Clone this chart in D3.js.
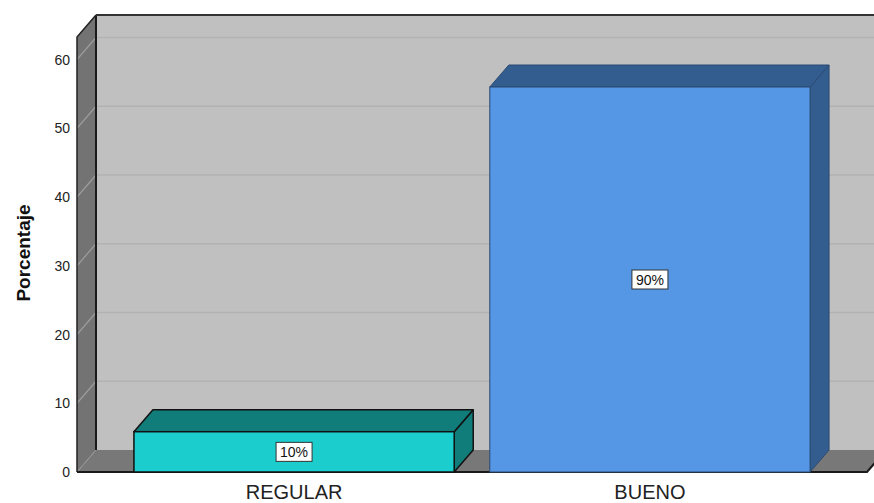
<!DOCTYPE html>
<html>
<head>
<meta charset="utf-8">
<script src="https://cdn.jsdelivr.net/npm/d3@7"></script>
<style>
  body { margin: 0; background: #fff; }
  text { font-family: "Liberation Sans", Arial, sans-serif; }
</style>
</head>
<body>
<script>
// data
var categories = ["REGULAR", "BUENO"];
var values = [5.86, 56.0];
var barLabels = ["10%", "90%"];
var yTicks = [0, 10, 20, 30, 40, 50, 60];
var barFront = ["#1ccdcd", "#5596e5"];
var barSide = ["#117d7a", "#345d8f"];
var barStroke = ["#111", "#2b4a72"];

var width = 874, height = 503;

// front plane and 3d depth offset
var left = 77, right = 867, base = 472;
var dx = 19, dy = -22;

var svg = d3.select("body").append("svg")
    .attr("width", width)
    .attr("height", height);

var x = d3.scaleBand()
    .domain(categories)
    .range([left, right])
    .paddingInner(0.1)
    .paddingOuter(0.16);

var y = d3.scaleLinear()
    .domain([0, 60])
    .range([base, 59.5]);

var topV = y.invert(37); // top of the wall, a bit over 60

function pts(a) { return a.map(function(p){ return p.join(","); }).join(" "); }

//back wall
svg.append("rect")
    .attr("x", left + dx)
    .attr("y", y(topV) + dy)
    .attr("width", width)
    .attr("height", y(0) - y(topV))
    .attr("fill", "#c0c0c0");

//gridlines on back wall
svg.selectAll(".grid")
    .data(yTicks.filter(function(d){ return d > 0; }))
    .enter().append("line")
    .attr("class", "grid")
    .attr("x1", left + dx).attr("x2", width)
    .attr("y1", function(d){ return y(d) + dy; })
    .attr("y2", function(d){ return y(d) + dy; })
    .attr("stroke", "#b2b2b2")
    .attr("stroke-width", 1.5);

//left wall
svg.append("polygon")
    .attr("points", pts([[left, y(0)], [left, y(topV)], [left + dx, y(topV) + dy], [left + dx, y(0) + dy]]))
    .attr("fill", "#737373");

//gridlines across left wall
svg.selectAll(".wallGrid")
    .data(yTicks.filter(function(d){ return d > 0; }))
    .enter().append("line")
    .attr("class", "wallGrid")
    .attr("x1", left).attr("x2", left + dx)
    .attr("y1", function(d){ return y(d); })
    .attr("y2", function(d){ return y(d) + dy; })
    .attr("stroke", "#9c9c9c")
    .attr("stroke-width", 1.2);

//floor
svg.append("polygon")
    .attr("points", pts([[left, y(0)], [left + dx, y(0) + dy], [right + dx, y(0) + dy], [right, y(0)]]))
    .attr("fill", "#787878");

svg.append("line")
    .attr("x1", left).attr("y1", y(0))
    .attr("x2", left + dx).attr("y2", y(0) + dy)
    .attr("stroke", "#999").attr("stroke-width", 1);

//frame edges
svg.append("line")
    .attr("x1", left + dx).attr("y1", y(topV) + dy)
    .attr("x2", left + dx).attr("y2", y(0) + dy)
    .attr("stroke", "#1a1a1a").attr("stroke-width", 2);
svg.append("line")
    .attr("x1", left + dx).attr("y1", y(topV) + dy)
    .attr("x2", width).attr("y2", y(topV) + dy)
    .attr("stroke", "#333").attr("stroke-width", 2);
svg.append("polyline")
    .attr("points", pts([[left, y(0)], [left, y(topV)], [left + dx, y(topV) + dy]]))
    .attr("fill", "none")
    .attr("stroke", "#222").attr("stroke-width", 1.5);
svg.append("polyline")
    .attr("points", pts([[left, y(0)], [right, y(0)], [right + dx, y(0) + dy]]))
    .attr("fill", "none")
    .attr("stroke", "#1a1a1a").attr("stroke-width", 2);

//bars
var bars = svg.selectAll(".bar")
    .data(values)
    .enter().append("g")
    .attr("class", "bar");

bars.append("polygon") //side
    .attr("points", function(d, i){
        var x1 = x(categories[i]) + x.bandwidth();
        return pts([[x1, y(0)], [x1, y(d)], [x1 + dx, y(d) + dy], [x1 + dx, y(0) + dy]]);
    })
    .attr("fill", function(d, i){ return barSide[i]; })
    .attr("stroke", function(d, i){ return barStroke[i]; })
    .attr("stroke-width", function(d, i){ return i == 0 ? 1.5 : 1; })
    .attr("stroke-linejoin", "round");

bars.append("polygon") //top
    .attr("points", function(d, i){
        var x0 = x(categories[i]), x1 = x0 + x.bandwidth();
        return pts([[x0, y(d)], [x0 + dx, y(d) + dy], [x1 + dx, y(d) + dy], [x1, y(d)]]);
    })
    .attr("fill", function(d, i){ return barSide[i]; })
    .attr("stroke", function(d, i){ return barStroke[i]; })
    .attr("stroke-width", function(d, i){ return i == 0 ? 1.5 : 1; })
    .attr("stroke-linejoin", "round");

bars.append("rect") //front
    .attr("x", function(d, i){ return x(categories[i]); })
    .attr("y", function(d){ return y(d); })
    .attr("width", x.bandwidth())
    .attr("height", function(d){ return y(0) - y(d); })
    .attr("fill", function(d, i){ return barFront[i]; })
    .attr("stroke", function(d, i){ return barStroke[i]; })
    .attr("stroke-width", function(d, i){ return i == 0 ? 1.5 : 1; });

//value labels
bars.append("rect")
    .attr("x", function(d, i){ return x(categories[i]) + x.bandwidth() / 2 - 18; })
    .attr("y", function(d){ return (y(d) + y(0)) / 2 - 9.5; })
    .attr("width", 36)
    .attr("height", 19)
    .attr("fill", "#fff")
    .attr("stroke", "#333")
    .attr("stroke-width", 1);

bars.append("text")
    .attr("x", function(d, i){ return x(categories[i]) + x.bandwidth() / 2; })
    .attr("y", function(d){ return (y(d) + y(0)) / 2 + 5; })
    .attr("text-anchor", "middle")
    .attr("font-size", 14)
    .attr("fill", "#111")
    .text(function(d, i){ return barLabels[i]; });

//y tick labels
svg.selectAll(".ytick")
    .data(yTicks)
    .enter().append("text")
    .attr("class", "ytick")
    .attr("x", left - 7)
    .attr("y", function(d){ return y(d) + 5; })
    .attr("text-anchor", "end")
    .attr("font-size", 14)
    .attr("fill", "#222")
    .text(function(d){ return d; });

//x category labels
svg.selectAll(".xlab")
    .data(categories)
    .enter().append("text")
    .attr("class", "xlab")
    .attr("x", function(d){ return x(d) + x.bandwidth() / 2; })
    .attr("y", 499)
    .attr("text-anchor", "middle")
    .attr("font-size", 20)
    .attr("fill", "#222")
    .text(function(d){ return d; });

//y axis title
svg.append("text")
    .attr("transform", "translate(30,253) rotate(-90)")
    .attr("text-anchor", "middle")
    .attr("font-size", 19)
    .attr("font-weight", "bold")
    .attr("fill", "#111")
    .text("Porcentaje");
</script>
</body>
</html>
